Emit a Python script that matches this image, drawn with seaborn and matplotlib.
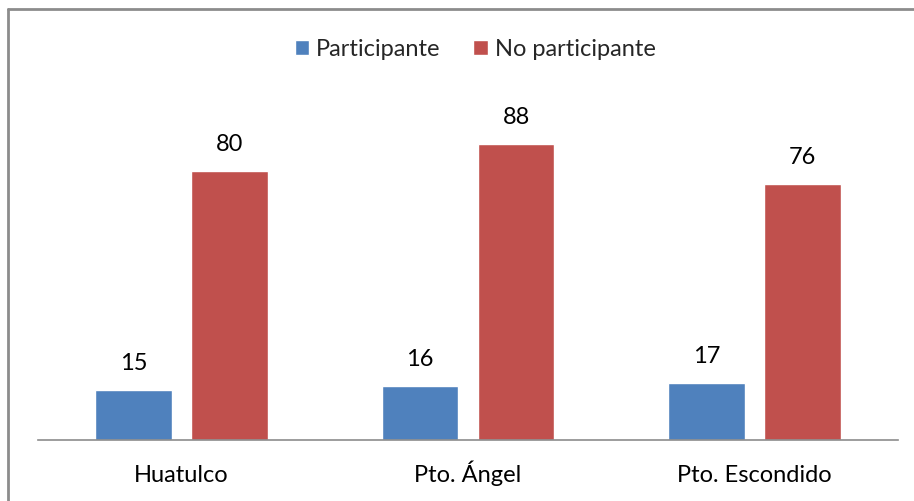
import matplotlib
matplotlib.use("Agg")
import matplotlib.pyplot as plt
import seaborn as sns
import pandas as pd
from matplotlib.lines import Line2D

categories = ["Huatulco", "Pto. Ángel", "Pto. Escondido"]
series = ["Participante", "No participante"]
participante = [15, 16, 17]
no_participante = [80, 88, 76]
colors = ["#4F81BD", "#C0504D"]

df = pd.DataFrame({
    "cat": categories * 2,
    "serie": [series[0]] * 3 + [series[1]] * 3,
    "val": participante + no_participante,
})

sns.set_theme(style="white")
plt.rcParams["font.family"] = ["Lato", "DejaVu Sans"]
FS = 17

fig = plt.figure(figsize=(9.14, 5.01), dpi=100)
ax = fig.add_axes([38 / 914, 61 / 501, 860 / 914, 370 / 501])
sns.barplot(data=df, x="cat", y="val", hue="serie", palette=colors,
            width=0.67, gap=0.2, ax=ax, saturation=1, legend=True)
ax.set_ylim(0, 110)
ax.set_xlim(-0.5, 2.5)
ax.set_xlabel("")
ax.set_ylabel("")
ax.set_yticks([])
for s in ["top", "right", "left"]:
    ax.spines[s].set_visible(False)
ax.spines["bottom"].set_color("#8c8c8c")
ax.spines["bottom"].set_linewidth(1.2)
ax.tick_params(axis="x", length=0, pad=30, labelsize=FS, colors="black")
for t in ax.get_xticklabels():
    t.set_verticalalignment("baseline")

for c in ax.containers:
    ax.bar_label(c, padding=11.5, fontsize=FS, color="black")

handles, labels = ax.get_legend_handles_labels()
ax.legend(handles, labels, loc="center", ncol=2, frameon=False, fontsize=FS,
          handlelength=0.6, handleheight=0.6, handletextpad=0.3, columnspacing=1.4)
ax.get_legend().set_bbox_to_anchor((475 / 914, 1 - 49 / 501), transform=fig.transFigure)

fig.add_artist(Line2D([8 / 914, 8 / 914], [0, 1 - 9 / 501], transform=fig.transFigure, color="#8c8c8c", lw=2))
fig.add_artist(Line2D([8 / 914, 1], [1 - 9 / 501, 1 - 9 / 501], transform=fig.transFigure, color="#8c8c8c", lw=2))

fig.savefig("out.png", dpi=100)
